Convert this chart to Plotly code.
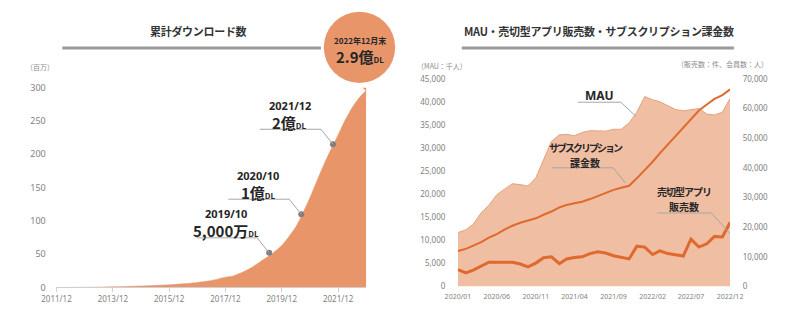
import plotly.graph_objects as go

# ---------------- data ----------------
dl_dates = ["2011-12-01", "2012-06-01", "2012-12-01", "2013-06-01", "2013-12-01", "2014-06-01",
            "2014-12-01", "2015-06-01", "2015-12-01", "2016-06-01", "2016-12-01", "2017-06-01",
            "2017-12-01", "2018-03-01", "2018-06-01", "2018-09-01", "2018-12-01", "2019-03-01",
            "2019-06-01", "2019-09-01", "2019-12-01", "2020-03-01", "2020-06-01", "2020-09-01",
            "2020-12-01", "2021-03-01", "2021-06-01", "2021-09-01", "2021-12-01", "2022-03-01",
            "2022-06-01", "2022-09-01", "2022-12-01"]
dl_values = [0, 0.1, 0.3, 0.6, 1.0, 1.5, 2.2, 3.0, 4.0, 5.5, 7.5, 10.5,
             15.5, 17, 21, 26, 32, 39, 46, 54, 63, 76, 91, 112,
             135, 160, 185, 208, 229, 251, 270, 285, 296]
dl_ticks = ["2011-12-01", "2013-12-01", "2015-12-01", "2017-12-01", "2019-12-01", "2021-12-01"]
dl_ticktext = ["2011/12", "2013/12", "2015/12", "2017/12", "2019/12", "2021/12"]

milestone_dates = ["2019-06-20", "2020-08-10", "2021-09-25"]
milestone_values = [52, 110, 215]
milestone_labels = ["2019/10", "2020/10", "2021/12"]
milestone_amounts = ["5,000万", "1億", "2億"]

months = ["2020-%02d-01" % m for m in range(1, 13)] + \
         ["2021-%02d-01" % m for m in range(1, 13)] + \
         ["2022-%02d-01" % m for m in range(1, 13)]
mau = [11700, 12300, 13500, 16000, 17600, 19900, 21100, 22300, 22100, 21800, 23600, 27400,
       31500, 32900, 33000, 32700, 33400, 33800, 33700, 33700, 34100, 34100, 35500, 37800,
       41200, 40500, 40100, 39300, 38400, 38100, 38300, 38600, 37400, 37200, 37800, 40800]
subs = [12000, 12700, 13800, 15000, 16500, 17700, 19200, 20500, 21500, 22300, 23000, 24200,
        25300, 26700, 27500, 28100, 28600, 29500, 30500, 31600, 32600, 33300, 34000, 36500,
        39200, 42100, 44900, 47900, 50800, 53800, 56500, 59400, 61400, 63300, 64600, 66500]
sales = [5700, 4600, 5500, 6800, 8200, 8200, 8100, 8200, 7600, 6600, 7900, 9700,
         10000, 7700, 9300, 9800, 10000, 11100, 11700, 11300, 10400, 9800, 9300, 13600,
         13300, 10800, 12000, 11100, 10600, 10300, 16000, 13300, 14400, 16900, 16700, 21600]
r_ticks = ["2020-01-01", "2020-06-01", "2020-11-01", "2021-04-01", "2021-09-01",
           "2022-02-01", "2022-07-01", "2022-12-01"]
r_ticktext = ["2020/01", "2020/06", "2020/11", "2021/04", "2021/09", "2022/02", "2022/07", "2022/12"]

# ---------------- styles ----------------
W, H = 800, 329
JP = "Noto Sans CJK JP"
NUM = "Noto Sans, Liberation Sans, sans-serif"
ORANGE = "#E8956A"
AREA = "#EFBEA3"
LINE = "#E0692E"
GRAY_TXT = "#7f7f7f"
DOT = "#7f7f7f"
LEAD = "#a6a6a6"


def px(x):
    return x / W


def py(y):
    return 1 - y / H


def tight(s, sp):
    return "<span style=\"letter-spacing:%spx\">%s</span>" % (sp, s)


fig = go.Figure()

# left: cumulative downloads
fig.add_trace(go.Scatter(x=dl_dates, y=dl_values, mode="lines", fill="tozeroy",
                         line=dict(color=ORANGE, width=0.5, shape="spline", smoothing=0.6),
                         fillcolor=ORANGE, xaxis="x", yaxis="y", hoverinfo="skip"))
fig.add_trace(go.Scatter(x=milestone_dates, y=milestone_values, mode="markers",
                         marker=dict(color=DOT, size=6), xaxis="x", yaxis="y", hoverinfo="skip"))

# right: MAU area + lines
fig.add_trace(go.Scatter(x=months, y=mau, mode="lines", fill="tozeroy",
                         line=dict(color="#E3A27F", width=1), fillcolor=AREA,
                         xaxis="x2", yaxis="y3", hoverinfo="skip"))
fig.add_trace(go.Scatter(x=months, y=subs, mode="lines", line=dict(color=LINE, width=2),
                         xaxis="x2", yaxis="y4", hoverinfo="skip"))
fig.add_trace(go.Scatter(x=months, y=sales, mode="lines", line=dict(color=LINE, width=3),
                         xaxis="x2", yaxis="y4", hoverinfo="skip"))

tickfont = dict(family=NUM, size=8, color=GRAY_TXT)
fig.update_layout(
    width=W, height=H, margin=dict(l=0, r=0, t=0, b=0),
    paper_bgcolor="white", plot_bgcolor="rgba(0,0,0,0)", showlegend=False,
    xaxis=dict(domain=[px(43), px(364)], type="date", range=["2011-12-01", "2022-12-01"],
               tickvals=dl_ticks, ticktext=dl_ticktext, tickfont=tickfont,
               showgrid=False, zeroline=False, showline=True, linecolor="#d0d0d0", linewidth=1,
               ticks="outside", ticklen=4, tickcolor="#d0d0d0", anchor="y"),
    yaxis=dict(domain=[py(292), py(84)], range=[0, 300], tickvals=[0, 50, 100, 150, 200, 250, 300],
               tickfont=dict(family=NUM, size=9, color=GRAY_TXT), showgrid=False, zeroline=False,
               showline=False, ticks="outside", ticklen=8, tickcolor="rgba(0,0,0,0)", anchor="x"),
    xaxis2=dict(domain=[px(459), px(741)], type="date", range=["2020-01-01", "2022-12-01"],
                tickvals=r_ticks, ticktext=r_ticktext, tickfont=dict(family=NUM, size=7, color=GRAY_TXT),
                showgrid=False, zeroline=False, showline=False, ticks="outside", ticklen=3,
                tickcolor="rgba(0,0,0,0)", anchor="y3"),
    yaxis3=dict(domain=[py(291), py(75)], range=[0, 45000], dtick=5000, tickformat=",d",
                tickfont=dict(family=NUM, size=8, color=GRAY_TXT), showgrid=False, zeroline=False,
                showline=False, ticks="outside", ticklen=10, tickcolor="rgba(0,0,0,0)", anchor="x2"),
    yaxis4=dict(domain=[py(291), py(75)], range=[0, 70000], dtick=10000, tickformat=",d",
                tickfont=dict(family=NUM, size=8, color=GRAY_TXT), showgrid=False, zeroline=False,
                showline=False, ticks="outside", ticklen=10, tickcolor="rgba(0,0,0,0)",
                overlaying="y3", side="right", anchor="x2"),
)

shapes = []
annos = []


def note(x, y, text, font, xanchor="center", **kw):
    d = dict(x=x, y=y, text=text, font=font, showarrow=False, xanchor=xanchor, yanchor="middle",
             borderpad=0)
    d.update(kw)
    if "xref" not in d:
        d["xref"] = "paper"
        d["yref"] = "paper"
    annos.append(d)


# titles + underline bars
note(px(190), py(25), "<b>" + tight("累計ダウンロード数", -0.3) + "</b>",
     dict(family=JP, size=11, color="#333333"))
note(px(605), py(25), "<b>" + tight("MAU・売切型アプリ販売数・サブスクリプション課金数", -0.3) + "</b>",
     dict(family=JP, size=11, color="#333333"))
for x0, x1 in [(49, 317), (463, 745)]:
    shapes.append(dict(type="line", xref="paper", yref="paper", x0=px(x0), x1=px(x1),
                       y0=py(42.7), y1=py(42.7), line=dict(color="#9a9a9a", width=3)))

# unit labels
unit_font = dict(family=JP, size=7, color="#8c8c8c")
note(px(26), py(62), "（百万）", unit_font)
note(px(442), py(61), "（MAU：千人）", unit_font)
note(px(781), py(59), "（販売数：件、会員数：人）", unit_font, xanchor="right")

# milestones (anchored at the dots)
for d, v, lab, amt in zip(milestone_dates, milestone_values, milestone_labels, milestone_amounts):
    shapes.append(dict(type="path", xref="x", yref="y", xsizemode="pixel", ysizemode="pixel",
                       xanchor=d, yanchor=v, path="M 0 0 L -12 15 L -73 15",
                       line=dict(color=LEAD, width=1)))
    note(d, v, "<b>" + lab + "</b>", dict(family=NUM, size=11, color="#262626"),
         xref="x", yref="y", xshift=-43, yshift=39)
    note(d, v, "<b><span style='font-size:15px'>" + amt +
               "</span><span style='font-size:8px'>DL</span></b>",
         dict(family=JP, size=15, color="#262626"), xref="x", yref="y", xshift=-43, yshift=22)

# bubble
shapes.append(dict(type="circle", xref="paper", yref="paper", x0=px(320), x1=px(394),
                   y0=py(79), y1=py(5), fillcolor=ORANGE, line=dict(width=0)))
shapes.append(dict(type="path", xref="x", yref="y", xsizemode="pixel", ysizemode="pixel",
                   xanchor=dl_dates[-1], yanchor=dl_values[-1],
                   path="M -15 14 L 2 14 L 0 -1 Z", fillcolor=ORANGE, line=dict(width=0)))
note(px(357), py(34.5), "<b>2022年12月末</b>", dict(family=JP, size=8, color="#262626"))
note(px(357), py(51.5), "<b>2.9億<span style='font-size:8px'>DL</span></b>",
     dict(family=JP, size=15, color="#262626"))

# right chart labels (anchored at series points)
lab_font = dict(family=JP, size=10, color="#262626")
# MAU
shapes.append(dict(type="path", xref="x2", yref="y3", xsizemode="pixel", ysizemode="pixel",
                   xanchor=months[23], yanchor=mau[23], path="M -1 -4 L -16 10 L -59 10",
                   line=dict(color=LEAD, width=1)))
note(months[23], mau[23], "<b>MAU</b>", dict(family=NUM, size=12, color="#262626"),
     xref="x2", yref="y3", xshift=-37, yshift=17)
# subscriptions
shapes.append(dict(type="path", xref="x2", yref="y4", xsizemode="pixel", ysizemode="pixel",
                   xanchor=months[21], yanchor=subs[21], path="M 4 5 L -8 20 L -69 20",
                   line=dict(color=LEAD, width=1)))
note(months[21], subs[21], "<b>" + tight("サブスクリプション", -2) + "</b>",
     lab_font, xref="x2", yref="y4", xshift=-35, yshift=40)
note(months[21], subs[21], "<b>課金数</b>",
     lab_font, xref="x2", yref="y4", xshift=-36, yshift=25.5)
# sales
shapes.append(dict(type="path", xref="x2", yref="y4", xsizemode="pixel", ysizemode="pixel",
                   xanchor=months[34], yanchor=sales[34], path="M 9 2 L -11 24 L -65 24",
                   line=dict(color=LEAD, width=1)))
note(months[34], sales[34], "<b>" + tight("売切型アプリ", -1) + "</b>",
     lab_font, xref="x2", yref="y4", xshift=-38, yshift=45.5)
note(months[34], sales[34], "<b>販売数</b>",
     lab_font, xref="x2", yref="y4", xshift=-38, yshift=31)

fig.update_layout(shapes=shapes, annotations=annos)
fig.write_html("out.html",
               post_script="document.body.style.margin='0';document.body.style.padding='0';"
                           "document.documentElement.style.overflow='hidden';")
